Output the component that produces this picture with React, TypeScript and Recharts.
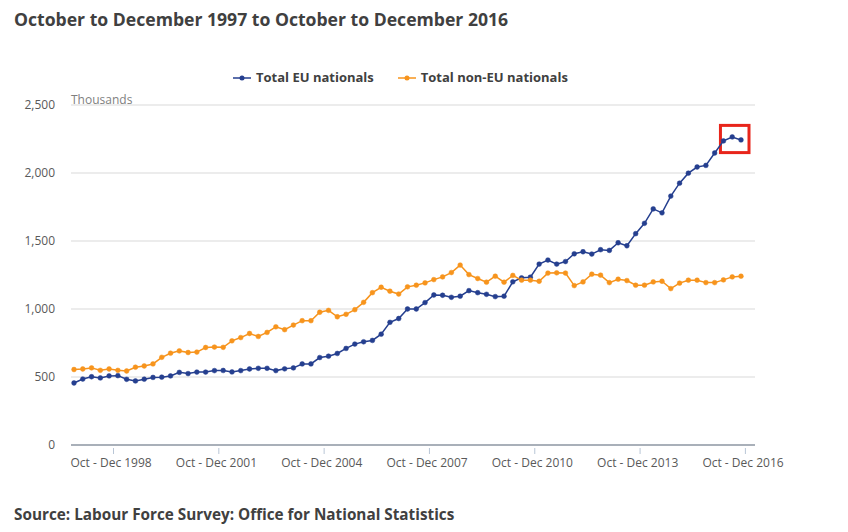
import { CartesianGrid, Line, LineChart, ReferenceArea, XAxis, YAxis } from 'recharts';

const QUARTER_NAMES = ['Oct - Dec', 'Jan - Mar', 'Apr - Jun', 'Jul - Sep'];
const FIRST_YEAR = 1997;

const EU = [
  456, 485, 502, 493, 508, 510, 483, 471, 484, 497, 499, 508, 534, 525, 536, 536, 547, 548, 537, 547,
  559, 564, 564, 547, 560, 567, 596, 596, 643, 653, 673, 710, 742, 759, 769, 815, 902, 930, 1000, 1000,
  1047, 1103, 1101, 1086, 1094, 1135, 1120, 1108, 1091, 1094, 1200, 1229, 1234, 1330, 1360, 1330, 1349,
  1406, 1421, 1404, 1436, 1431, 1487, 1465, 1554, 1630, 1736, 1707, 1830, 1925, 1999, 2044, 2056, 2147,
  2236, 2265, 2243,
];

const NON_EU = [
  555, 559, 567, 549, 559, 549, 544, 572, 581, 596, 645, 675, 692, 680, 683, 717, 720, 718, 766, 790,
  820, 798, 828, 869, 848, 882, 914, 914, 976, 990, 943, 961, 995, 1049, 1120, 1160, 1131, 1110, 1163,
  1175, 1192, 1216, 1236, 1268, 1323, 1253, 1224, 1197, 1241, 1197, 1247, 1212, 1212, 1204, 1264, 1266,
  1264, 1172, 1199, 1256, 1249, 1194, 1219, 1209, 1175, 1175, 1199, 1204, 1150, 1190, 1212, 1212, 1194,
  1194, 1214, 1236, 1241,
];

const X_TICKS = [
  'Oct - Dec 1998',
  'Oct - Dec 2001',
  'Oct - Dec 2004',
  'Oct - Dec 2007',
  'Oct - Dec 2010',
  'Oct - Dec 2013',
  'Oct - Dec 2016',
];
const Y_TICKS = [0, 500, 1000, 1500, 2000, 2500];

// quarter label for each row: Oct - Dec 1997, Jan - Mar 1998, ...
const quarterLabel = (i: number) => {
  const q = i % 4;
  const year = FIRST_YEAR + Math.floor(i / 4) + (q === 0 ? 0 : 1);
  return `${QUARTER_NAMES[q]} ${year}`;
};

const data = EU.map((eu, i) => ({ quarter: quarterLabel(i), eu, nonEu: NON_EU[i] }));

const BLUE = '#253f8f';
const ORANGE = '#f7941d';
const FONT = '"Open Sans", sans-serif';

const XTick = ({ x, y, payload }: any) => (
  <g>
    <line x1={x + 4.4} x2={x + 4.4} y1={y + 1} y2={y + 7} stroke="#b9c6d6" />
    <text x={x + 2} y={y + 20} textAnchor="middle" fontSize={12} fill="#595959" fontFamily={FONT}>
      {payload.value}
    </text>
  </g>
);

const LegendItem = ({ color, label }: { color: string; label: string }) => (
  <span style={{ display: 'inline-flex', alignItems: 'center', marginRight: 24 }}>
    <svg width={18} height={10} style={{ marginRight: 5 }}>
      <line x1={0} x2={18} y1={5} y2={5} stroke={color} strokeWidth={1.5} />
      <circle cx={9} cy={5} r={2.5} fill={color} />
    </svg>
    {label}
  </span>
);

const App = () => {
  return (
    <div style={{ position: 'relative', width: 840, height: 524, fontFamily: FONT, color: '#404040' }}>
      <div style={{ position: 'absolute', left: 6, top: 3, fontSize: 17.6, lineHeight: '17.6px', fontWeight: 700 }}>
        October to December 1997 to October to December 2016
      </div>
      <div
        style={{
          position: 'absolute',
          left: 225,
          top: 63,
          fontSize: 13,
          lineHeight: '13px',
          fontWeight: 700,
          display: 'flex',
          alignItems: 'center',
        }}
      >
        <LegendItem color={BLUE} label="Total EU nationals" />
        <LegendItem color={ORANGE} label="Total non-EU nationals" />
      </div>
      <div style={{ position: 'absolute', left: 63, top: 86, fontSize: 12, lineHeight: '12px', color: '#7f7f7f' }}>
        Thousands
      </div>
      <LineChart width={840} height={524} data={data} margin={{ top: 97, right: 93, left: 13, bottom: 57 }}>
        <CartesianGrid vertical={false} stroke="#d9d9d9" />
        <XAxis
          dataKey="quarter"
          ticks={X_TICKS}
          interval={0}
          height={30}
          padding={{ left: 3, right: 14 }}
          axisLine={{ stroke: '#a9b0b9', strokeWidth: 2 }}
          tickLine={false}
          tickSize={0}
          tick={<XTick />}
        />
        <YAxis
          domain={[0, 2500]}
          ticks={Y_TICKS}
          width={50}
          axisLine={false}
          tickLine={false}
          tickMargin={10}
          tickFormatter={(v: number) => v.toLocaleString('en-GB')}
          tick={{ fontSize: 12, fill: '#595959', fontFamily: FONT }}
        />
        <Line
          dataKey="eu"
          name="Total EU nationals"
          stroke={BLUE}
          strokeWidth={1.5}
          dot={{ r: 2.4, fill: BLUE, stroke: BLUE, strokeWidth: 0.5 }}
          isAnimationActive={false}
        />
        <Line
          dataKey="nonEu"
          name="Total non-EU nationals"
          stroke={ORANGE}
          strokeWidth={1.5}
          dot={{ r: 2.4, fill: ORANGE, stroke: ORANGE, strokeWidth: 0.5 }}
          isAnimationActive={false}
        />
        <ReferenceArea
          x1="Apr - Jun 2016"
          x2="Oct - Dec 2016"
          y1={2150}
          y2={2350}
          ifOverflow="visible"
          shape={(p: any) => (
            <rect
              x={p.x - 3}
              y={p.y}
              width={p.width + 11}
              height={p.height}
              fill="none"
              stroke="#e8251b"
              strokeWidth={3}
            />
          )}
        />
      </LineChart>
      <div style={{ position: 'absolute', left: 6, top: 499, fontSize: 15.3, lineHeight: '15.3px', fontWeight: 700 }}>
        Source: Labour Force Survey: Office for National Statistics
      </div>
    </div>
  );
};

export default App;
